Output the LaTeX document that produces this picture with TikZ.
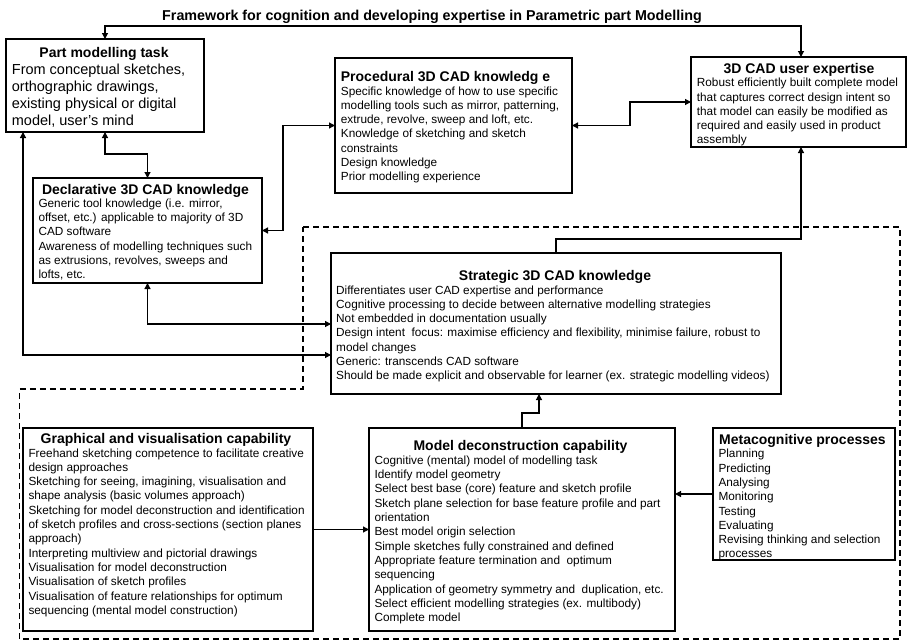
\documentclass[tikz,border=0pt]{standalone}
\usepackage{fontspec}
\setmainfont{Liberation Sans}
\usetikzlibrary{arrows.meta}
\newcommand{\ttlfont}{\fontsize{14}{17}\selectfont\bfseries}
\newcommand{\bdyfont}{\fontsize{11.8}{14.3}\selectfont}
\newcommand{\bigfont}{\fontsize{14.5}{17.1}\selectfont}
\newcommand{\lns}[1]{\begin{tabular}[t]{@{}l@{}}#1\end{tabular}}
\begin{document}
\begin{tikzpicture}[x=1pt,y=-1pt,
  box/.style={draw, line width=1.5pt, inner sep=0pt, outer sep=0pt, anchor=north west},
  thickbox/.style={box, line width=2.6pt},
  ttlnode/.style={font=\ttlfont, inner sep=0pt, anchor=base},
  bodynode/.style={font=\bdyfont, inner sep=0pt, anchor=base west},
  conn/.style={line width=1.2pt},
  arr/.style={conn, -{Triangle[length=6pt,width=6pt]}},
  biarr/.style={conn, {Triangle[length=6pt,width=6pt]}-{Triangle[length=6pt,width=6pt]}},
  region/.style={line width=1.2pt, dash pattern=on 6pt off 4pt}
]
\useasboundingbox (0,0) rectangle (908,640);

% dashed region
\draw[region] (303,227) -- (900,227) -- (900,639) -- (19.5,639) -- (19.5,389) -- (303,389) -- cycle;

% title
\node[font=\fontsize{14.3}{17}\selectfont\bfseries, inner sep=0pt, anchor=base] (title) at (432,20)
  {Framework for cognition and developing expertise in Parametric part Modelling};

% boxes
\node[thickbox, minimum width=198pt, minimum height=93pt] (part) at (6,39) {};
\node[box, minimum width=237pt, minimum height=135pt] (proc) at (335,58) {};
\node[thickbox, minimum width=215pt, minimum height=90pt] (expt) at (691,57) {};
\node[box, minimum width=229pt, minimum height=105pt] (decl) at (33,178) {};
\node[box, minimum width=450pt, minimum height=141pt] (strat) at (331,253) {};
\node[box, minimum width=290pt, minimum height=203pt] (graph) at (23,428) {};
\node[box, minimum width=306pt, minimum height=203pt] (model) at (369,428) {};
\node[box, minimum width=182pt, minimum height=132pt] (meta) at (713,428) {};

% texts
\node[ttlnode] (partT) at (104,57.3) {Part modelling task};
\node[bodynode, font=\bigfont] (partB) at (11.7,74.3) {\lns{From conceptual sketches,\\orthographic drawings,\\existing physical or digital\\model, user's mind}};

\node[ttlnode, anchor=base west] (procT) at (340.7,81.5) {Procedural 3D CAD knowledg e};
\node[bodynode] (procB) at (340.7,95) {\lns{Specific knowledge of how to use specific\\modelling tools such as mirror, patterning,\\extrude, revolve, sweep and loft, etc.\\Knowledge of sketching and sketch\\constraints\\Design knowledge\\Prior modelling experience}};

\node[ttlnode] (exptT) at (799,73.3) {3D CAD user expertise};
\node[bodynode] (exptB) at (696.7,86.7) {\lns{Robust efficiently built complete model\\that captures correct design intent so\\that model can easily be modified as\\required and easily used in product\\assembly}};

\node[ttlnode] (declT) at (145.5,194.3) {Declarative 3D CAD knowledge};
\node[bodynode] (declB) at (38.3,207.3) {\lns{Generic tool knowledge (i.e. mirror,\\offset, etc.) applicable to majority of 3D\\CAD software\\Awareness of modelling techniques such\\as extrusions, revolves, sweeps and\\lofts, etc.}};

\node[ttlnode] (stratT) at (555,280.5) {Strategic 3D CAD knowledge};
\node[bodynode] (stratB) at (336,294) {\lns{Differentiates user CAD expertise and performance\\Cognitive processing to decide between alternative modelling strategies\\Not embedded in documentation usually\\Design intent\ \ focus: maximise efficiency and flexibility, minimise failure, robust to\\model changes\\Generic: transcends CAD software\\Should be made explicit and observable for learner (ex. strategic modelling videos)}};

\node[ttlnode] (graphT) at (166,443.5) {Graphical and visualisation capability};
\node[bodynode] (graphB) at (28.3,457) {\lns{Freehand sketching competence to facilitate creative\\design approaches\\Sketching for seeing, imagining, visualisation and\\shape analysis (basic volumes approach)\\Sketching for model deconstruction and identification\\of sketch profiles and cross-sections (section planes\\approach)\\Interpreting multiview and pictorial drawings\\Visualisation for model deconstruction\\Visualisation of sketch profiles\\Visualisation of feature relationships for optimum\\sequencing (mental model construction)}};

\node[ttlnode] (modelT) at (520.5,450.5) {Model deconstruction capability};
\node[bodynode] (modelB) at (374.3,464.3) {\lns{Cognitive (mental) model of modelling task\\Identify model geometry\\Select best base (core) feature and sketch profile\\Sketch plane selection for base feature profile and part\\orientation\\Best model origin selection\\Simple sketches fully constrained and defined\\Appropriate feature termination and\ \ optimum\\sequencing\\Application of geometry symmetry and\ \ duplication, etc.\\Select efficient modelling strategies (ex. multibody)\\Complete model}};

\node[ttlnode, anchor=base west] (metaT) at (719,444) {Metacognitive processes};
\node[bodynode] (metaB) at (718.3,457.8) {\lns{Planning\\Predicting\\Analysing\\Monitoring\\Testing\\Evaluating\\Revising thinking and selection\\processes}};

% connectors
\draw[biarr] ([xshift=99pt]part.north west) -- ++(0,-13) -| ([xshift=110pt]expt.north west);
\draw[biarr] (part.south) -- ++(0,22) -| (decl.north);
\draw[biarr] (decl.east) -- ++(21,0) |- (proc.west);
\draw[biarr] (proc.east) -- ++(58,0) |- (expt.west);
\draw[arr] (strat.north) -- ++(0,-14) -| ([xshift=110pt]expt.south west);
\draw[biarr] (decl.south) |- ([yshift=-71pt]strat.north west);
\draw[biarr] ([xshift=17pt]part.south west) |- ([yshift=-102pt]strat.north west);
\draw[arr] (graph.east) -- (model.west);
\draw[arr] (meta.west) -- (meta.west -| model.east);
\draw[arr] (model.north) -- ++(0,-15) -| ([xshift=208pt]strat.south west);
\end{tikzpicture}
\end{document}
